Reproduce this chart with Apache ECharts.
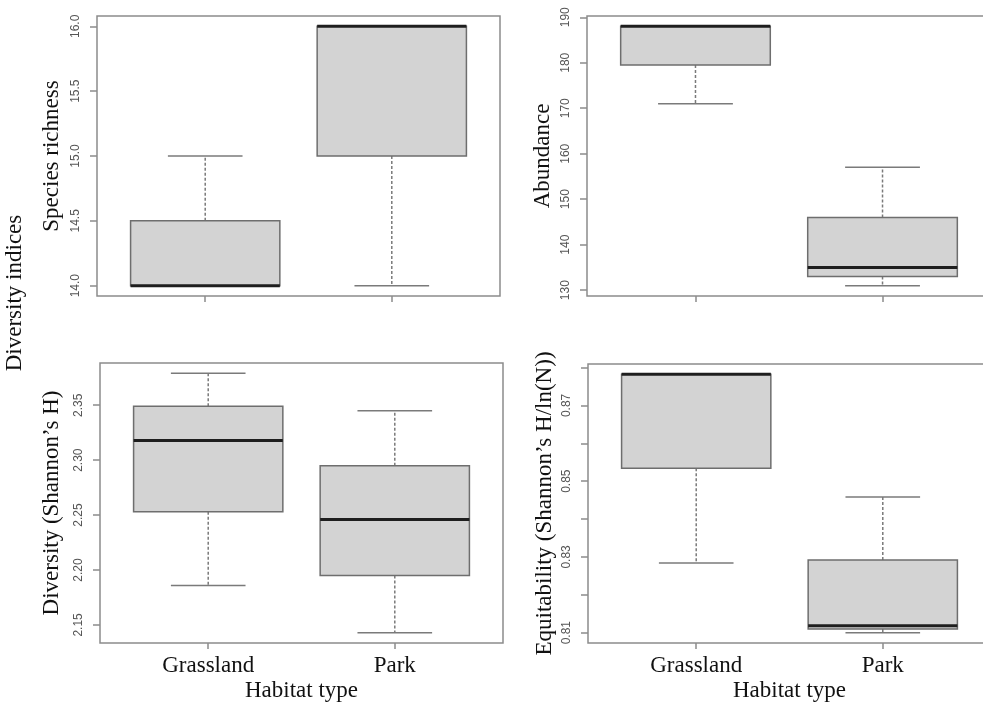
<!DOCTYPE html>
<html>
<head>
<meta charset="utf-8">
<script src="https://cdn.jsdelivr.net/npm/echarts@6/dist/echarts.min.js"></script>
<style>html,body{margin:0;padding:0;background:#fff}#c{width:983px;height:707px}</style>
</head>
<body>
<div id="c"></div>
<script>
// ---- data (min, q1, median, q3, max) per habitat ----
const categories = ['Grassland', 'Park'];
const richness  = [[14, 14, 14, 14.5, 15], [14, 15, 16, 16, 16]];
const abundance = [[171, 179.5, 188, 188, 188], [131, 133, 135, 146, 157]];
const shannon   = [[2.186, 2.253, 2.318, 2.349, 2.379], [2.143, 2.195, 2.246, 2.295, 2.345]];
const equit     = [[0.8284, 0.8534, 0.8782, 0.8782, 0.8782], [0.810, 0.811, 0.8118, 0.8292, 0.8458]];

// ---- tick values ----
const richnessTicks  = [14, 14.5, 15, 15.5, 16];
const abundanceTicks = [130, 140, 150, 160, 170, 180, 190];
const shannonTicks   = [2.15, 2.20, 2.25, 2.30, 2.35];
const equitTicks     = [0.81, 0.82, 0.83, 0.84, 0.85, 0.86, 0.87, 0.88];
const equitLabels    = [0.81, 0.83, 0.85, 0.87];
const xTicks = [1, 2];

const yTitles = ['Species richness', 'Abundance', 'Diversity (Shannon\u2019s H)', 'Equitability (Shannon\u2019s H/ln(N))'];
const panels = [richness, abundance, shannon, equit];
const tickSets = [richnessTicks, abundanceTicks, shannonTicks, equitTicks];
const labelSets = [richnessTicks, abundanceTicks, shannonTicks, equitLabels];
const decimals = [1, 0, 2, 2];
const nameGaps = [33.5, 32.5, 36.5, 31.5];

function range(d) {
  let lo = Infinity, hi = -Infinity;
  d.forEach(r => r.forEach(v => { lo = Math.min(lo, v); hi = Math.max(hi, v); }));
  const e = (hi - lo) * 0.04;
  return [lo - e, hi + e];
}

const grids = [
  {left: 97, top: 16, width: 403, height: 280},
  {left: 587, top: 16, width: 404, height: 280},
  {left: 100, top: 363, width: 403, height: 280},
  {left: 588, top: 364, width: 403, height: 279}
].map(g => Object.assign(g, {show: true, borderColor: '#8c8c8c', borderWidth: 1.5,
  backgroundColor: 'transparent', containLabel: false, outerBoundsMode: 'none'}));

const serif = '"Liberation Serif", "Times New Roman", serif';

const xAxes = grids.map((g, i) => ({
  type: 'value', gridIndex: i, min: 0.42, max: 2.58,
  splitLine: {show: false}, axisLine: {show: false},
  axisTick: {show: true, length: 6, customValues: xTicks, lineStyle: {color: '#8c8c8c', width: 1.5}},
  axisLabel: {show: i >= 2, customValues: xTicks, margin: 11,
    formatter: v => categories[Math.round(v) - 1] || '',
    fontFamily: serif, fontSize: 23, color: '#111'},
  name: i >= 2 ? 'Habitat type' : '', nameLocation: 'middle', nameGap: 36,
  nameTextStyle: {fontFamily: serif, fontSize: 23, color: '#111'}
}));

const yAxes = grids.map((g, i) => {
  const r = range(panels[i]);
  return {
    type: 'value', gridIndex: i, min: r[0], max: r[1],
    splitLine: {show: false}, axisLine: {show: false},
    axisTick: {show: true, length: 7, customValues: tickSets[i], lineStyle: {color: '#8c8c8c', width: 1.5}},
    axisLabel: {customValues: labelSets[i], rotate: 90, margin: 15,
      formatter: v => Number(v).toFixed(decimals[i]),
      fontFamily: 'Liberation Sans, Arial, sans-serif', fontSize: 12, color: '#555'},
    name: yTitles[i], nameLocation: 'middle', nameGap: nameGaps[i], nameRotate: 90,
    nameTextStyle: {fontFamily: serif, fontSize: 23, color: '#111'}
  };
});

function renderBox(params, api) {
  const x = api.value(0);
  const v = [1, 2, 3, 4, 5].map(k => api.value(k));
  const y = v.map(val => api.coord([x, val])[1]);
  const cx = api.coord([x, v[2]])[0];
  const bl = api.coord([x - 0.4, v[2]])[0], br = api.coord([x + 0.4, v[2]])[0];
  const cl = api.coord([x - 0.2, v[2]])[0], cr = api.coord([x + 0.2, v[2]])[0];
  const dash = {stroke: '#7a7a7a', lineWidth: 1.5, lineDash: [3, 2]};
  const solid = {stroke: '#7a7a7a', lineWidth: 1.5};
  return {
    type: 'group',
    children: [
      {type: 'line', shape: {x1: cx, y1: y[3], x2: cx, y2: y[4]}, style: dash},
      {type: 'line', shape: {x1: cx, y1: y[1], x2: cx, y2: y[0]}, style: dash},
      {type: 'line', shape: {x1: cl, y1: y[4], x2: cr, y2: y[4]}, style: solid},
      {type: 'line', shape: {x1: cl, y1: y[0], x2: cr, y2: y[0]}, style: solid},
      {type: 'rect', shape: {x: bl, y: y[3], width: br - bl, height: y[1] - y[3]},
        style: {fill: '#d3d3d3', stroke: '#6e6e6e', lineWidth: 1.5}},
      {type: 'line', shape: {x1: bl, y1: y[2], x2: br, y2: y[2]}, style: {stroke: '#1e1e1e', lineWidth: 3}}
    ]
  };
}

const series = panels.map((d, i) => ({
  type: 'custom', xAxisIndex: i, yAxisIndex: i, clip: false,
  renderItem: renderBox,
  encode: {x: 0, y: [1, 2, 3, 4, 5]},
  data: d.map((row, j) => [j + 1].concat(row))
}));

const chart = echarts.init(document.getElementById('c'), null, {renderer: 'canvas'});
chart.setOption({
  animation: false,
  backgroundColor: '#fff',
  grid: grids, xAxis: xAxes, yAxis: yAxes, series: series,
  graphic: [{
    type: 'text', x: 15, y: 293, rotation: Math.PI / 2,
    style: {text: 'Diversity indices', fontFamily: serif, fontSize: 23, fill: '#111',
      align: 'center', verticalAlign: 'middle'}
  }]
});
</script>
</body>
</html>
